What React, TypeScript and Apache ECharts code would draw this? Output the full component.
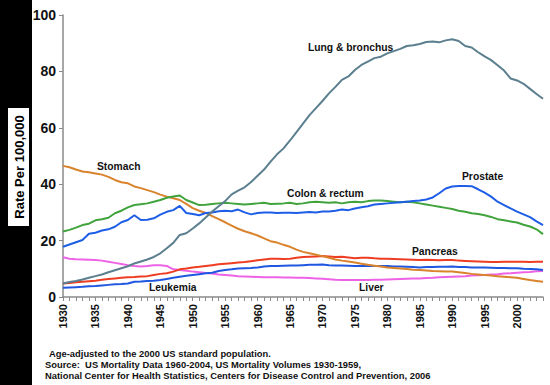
import React, { useEffect, useRef } from "react";
import * as echarts from "echarts";

const years = [
  "1930","1931","1932","1933","1934","1935","1936","1937","1938","1939",
  "1940","1941","1942","1943","1944","1945","1946","1947","1948","1949",
  "1950","1951","1952","1953","1954","1955","1956","1957","1958","1959",
  "1960","1961","1962","1963","1964","1965","1966","1967","1968","1969",
  "1970","1971","1972","1973","1974","1975","1976","1977","1978","1979",
  "1980","1981","1982","1983","1984","1985","1986","1987","1988","1989",
  "1990","1991","1992","1993","1994","1995","1996","1997","1998","1999",
  "2000","2001","2002","2003","2004",
];

const lung = [
  4.8, 5.3, 5.7, 6.2, 6.8, 7.4, 8.0, 8.8, 9.5, 10.2,
  10.9, 11.9, 12.6, 13.3, 14.2, 15.5, 17.3, 19.2, 22.0, 22.6,
  24.3, 26.1, 28.2, 30.3, 32.2, 34.0, 36.4, 37.7, 38.9, 40.8,
  43.0, 45.2, 48.0, 50.6, 52.7, 55.5, 58.5, 61.5, 64.5, 67.0,
  69.5, 72.2, 74.5, 77.0, 78.2, 80.5, 82.3, 83.5, 84.7, 85.2,
  86.4, 87.2, 88.0, 89.0, 89.3, 89.7, 90.4, 90.6, 90.3, 91.0,
  91.4, 90.8, 89.0, 88.5, 86.8, 85.3, 84.0, 82.2, 80.3, 77.5,
  76.8, 75.6, 73.8, 72.0, 70.3,
];

const prostate = [
  17.8, 18.6, 19.4, 20.2, 22.4, 22.8, 23.6, 24.0, 24.9, 26.5,
  27.3, 29.0, 27.3, 27.4, 27.9, 29.2, 30.2, 30.8, 32.3, 29.8,
  29.4, 29.0, 29.8, 30.0, 30.4, 30.6, 30.4, 31.0, 30.0, 29.3,
  29.8, 30.0, 30.0, 29.8, 29.9, 29.9, 29.8, 30.0, 30.1, 30.0,
  30.3, 30.3, 30.6, 31.0, 30.8, 31.4, 31.8, 32.2, 32.8, 33.0,
  33.2, 33.4, 33.6, 33.8, 34.0, 34.2, 34.6, 35.3, 36.8, 38.5,
  39.2, 39.4, 39.4, 39.3, 38.2, 37.0, 35.6, 33.8, 32.6, 31.4,
  30.3, 29.3, 28.3, 26.8, 25.5,
];

const colon = [
  23.2, 23.8, 24.6, 25.5, 26.0, 27.2, 27.6, 28.1, 29.7, 30.6,
  31.8, 32.6, 32.9, 33.2, 33.8, 34.4, 35.2, 35.6, 36.0, 34.4,
  33.5, 32.6, 32.7, 33.0, 33.2, 33.4, 33.2, 33.0, 32.8, 33.0,
  33.2, 33.4, 33.0, 33.1, 33.2, 33.4, 33.0, 33.2, 33.6, 33.8,
  33.6, 33.4, 33.6, 33.2, 33.6, 33.8, 33.6, 34.0, 34.2, 34.2,
  34.0, 33.8, 33.6, 33.8, 33.6, 33.2, 32.8, 32.4, 32.0, 31.6,
  31.2, 30.6, 30.2, 29.7, 29.4, 29.0, 28.4, 27.6, 27.2, 26.8,
  26.4, 25.6, 25.0, 24.0, 22.3,
];

const stomach = [
  46.5, 46.0, 45.2, 44.5, 44.2, 43.8, 43.4, 42.6, 41.5, 40.7,
  40.3, 39.2, 38.6, 37.9, 37.2, 36.3, 35.6, 35.0, 34.4, 33.0,
  31.5, 30.6, 29.8, 28.7, 27.6, 26.5, 25.3, 24.2, 23.3, 22.6,
  21.8, 20.8, 19.8, 19.3, 18.5, 17.8, 16.8, 16.0, 15.5, 15.0,
  14.5, 13.9, 13.3, 12.9, 12.6, 12.2, 11.8, 11.4, 11.1, 10.8,
  10.5, 10.3, 10.1, 9.9, 9.7, 9.6, 9.4, 9.2, 9.1, 9.0,
  9.0, 8.8, 8.5, 8.2, 8.0, 7.8, 7.6, 7.4, 7.2, 7.0,
  6.8, 6.4, 6.0, 5.7, 5.4,
];

const pancreas = [
  4.8, 5.0, 5.2, 5.4, 5.6, 5.8, 6.1, 6.4, 6.6, 6.8,
  7.0, 7.1, 7.3, 7.4, 7.8, 8.2, 8.4, 9.0, 9.8, 10.1,
  10.5, 10.7, 11.0, 11.3, 11.6, 11.8, 12.0, 12.2, 12.4, 12.7,
  13.0, 13.3, 13.6, 13.6, 13.5, 13.6, 13.9, 14.2, 14.3, 14.4,
  14.5, 14.4, 14.2, 14.3, 14.0, 13.7, 13.9, 13.9, 13.7, 13.6,
  13.6, 13.5, 13.4, 13.3, 13.2, 13.1, 13.2, 13.1, 13.0, 13.1,
  13.1, 12.9, 12.8, 12.7, 12.6, 12.5, 12.4, 12.4, 12.5, 12.5,
  12.5, 12.5, 12.4, 12.5, 12.5,
];

const leukemia = [
  3.3, 3.4, 3.5, 3.6, 3.8, 3.9, 4.1, 4.3, 4.5, 4.6,
  4.8, 5.4, 5.5, 5.7, 5.8, 6.0, 6.4, 6.8, 7.2, 7.5,
  7.8, 8.1, 8.4, 8.6, 9.2, 9.6, 9.8, 10.1, 10.2, 10.3,
  10.5, 10.8, 11.0, 11.0, 11.1, 11.2, 11.2, 11.3, 11.4, 11.4,
  11.5, 11.3, 11.2, 11.2, 11.1, 11.0, 11.0, 11.1, 11.0, 11.0,
  11.0, 10.8, 10.8, 10.7, 10.6, 10.5, 10.6, 10.6, 10.7, 10.7,
  10.8, 10.6, 10.6, 10.5, 10.5, 10.5, 10.4, 10.3, 10.3, 10.2,
  10.2, 10.0, 9.9, 9.8, 9.6,
];

const liver = [
  14.1, 13.6, 13.4, 13.3, 13.2, 13.1, 12.9, 12.5, 12.1, 11.7,
  11.3, 11.0, 10.8, 11.0, 11.3, 11.3, 11.0, 9.8, 9.6, 9.3,
  9.0, 8.8, 8.5, 8.3, 8.0, 7.8, 7.6, 7.4, 7.3, 7.2,
  7.1, 7.0, 7.0, 7.0, 6.9, 6.9, 6.8, 6.8, 6.7, 6.6,
  6.5, 6.3, 6.1, 6.0, 6.0, 6.0, 6.0, 6.0, 6.1, 6.1,
  6.2, 6.3, 6.4, 6.5, 6.6, 6.6, 6.7, 6.8, 7.0, 7.1,
  7.2, 7.3, 7.4, 7.6, 7.7, 7.8, 8.0, 8.1, 8.3, 8.4,
  8.6, 8.8, 8.9, 9.1, 9.2,
];

const yTicks = [0, 20, 40, 60, 80, 100];

const footnotes = [
  "Age-adjusted to the 2000 US standard population.",
  "Source:  US Mortality Data 1960-2004, US Mortality Volumes 1930-1959,",
  "National Center for Health Statistics, Centers for Disease Control and Prevention, 2006",
];

const FONT = "'Liberation Sans', Arial, Helvetica, sans-serif";

export default function App() {
  const ref = useRef<HTMLDivElement>(null);

  useEffect(() => {
    if (!ref.current) return;
    const chart = echarts.init(ref.current, null, { renderer: "svg" });

    const mk = (name: string, data: number[], color: string, width = 2) => ({
      name,
      type: "line",
      data,
      symbol: "none",
      smooth: false,
      lineStyle: { color, width },
      itemStyle: { color },
      z: 3,
    });

    const label = (text: string, x: number, y: number) => ({
      type: "text",
      x,
      y,
      z: 10,
      style: {
        text,
        fill: "#111",
        font: `bold 10.3px ${FONT}`,
        textVerticalAlign: "middle",
      },
    });

    const foot = (text: string, x: number, y: number) => ({
      type: "text",
      x,
      y,
      style: {
        text,
        fill: "#111",
        font: `bold 9.4px ${FONT}`,
        textVerticalAlign: "middle",
      },
    });

    chart.setOption({
      animation: false,
      backgroundColor: "#ffffff",
      grid: { left: 63, right: 7, top: 15, bottom: 88, containLabel: false },
      xAxis: {
        type: "category",
        data: years,
        boundaryGap: false,
        axisLine: { lineStyle: { color: "#8a8a8a", width: 1.5 } },
        axisTick: { interval: 0, length: 4, lineStyle: { color: "#8a8a8a" } },
        axisLabel: {
          interval: 4,
          rotate: 90,
          margin: 7,
          color: "#111",
          fontWeight: "bold",
          fontSize: 11,
          fontFamily: FONT,
        },
        splitLine: { show: false },
      },
      yAxis: {
        type: "value",
        min: yTicks[0],
        max: yTicks[yTicks.length - 1],
        interval: 20,
        axisLine: { show: true, lineStyle: { color: "#8a8a8a", width: 1.5 } },
        axisTick: { show: true, length: 4, lineStyle: { color: "#8a8a8a" } },
        axisLabel: {
          margin: 7,
          color: "#111",
          fontWeight: "bold",
          fontSize: 14,
          fontFamily: FONT,
        },
        splitLine: { show: false },
      },
      series: [
        mk("Liver", liver, "#ee62e6"),
        mk("Leukemia", leukemia, "#1f57e0"),
        mk("Pancreas", pancreas, "#ee3d22"),
        mk("Stomach", stomach, "#d9832c"),
        mk("Colon & rectum", colon, "#40a33c"),
        mk("Prostate", prostate, "#1e5ee6"),
        mk("Lung & bronchus", lung, "#5b7f8e"),
      ],
      graphic: [
        { type: "rect", shape: { x: 0, y: 0, width: 32, height: 385 }, style: { fill: "#000" }, z: 1 },
        { type: "rect", shape: { x: 8, y: 108, width: 21, height: 118 }, style: { fill: "#fff" }, z: 2 },
        {
          type: "text",
          x: 19,
          y: 167,
          rotation: Math.PI / 2,
          z: 3,
          style: {
            text: "Rate Per 100,000",
            fill: "#000",
            font: `bold 13px ${FONT}`,
            textAlign: "center",
            textVerticalAlign: "middle",
          },
        },
        label("Lung & bronchus", 308, 47),
        label("Prostate", 462, 176),
        label("Colon & rectum", 287, 193),
        label("Stomach", 97, 166),
        label("Pancreas", 412, 251),
        label("Liver", 359, 287),
        label("Leukemia", 149, 287),
        foot(footnotes[0], 49, 353),
        foot(footnotes[1], 45, 364),
        foot(footnotes[2], 45, 375),
      ],
    });

    return () => chart.dispose();
  }, []);

  return (
    <div
      ref={ref}
      style={{ position: "absolute", left: 0, top: 0, width: 550, height: 385, background: "#fff" }}
    />
  );
}
